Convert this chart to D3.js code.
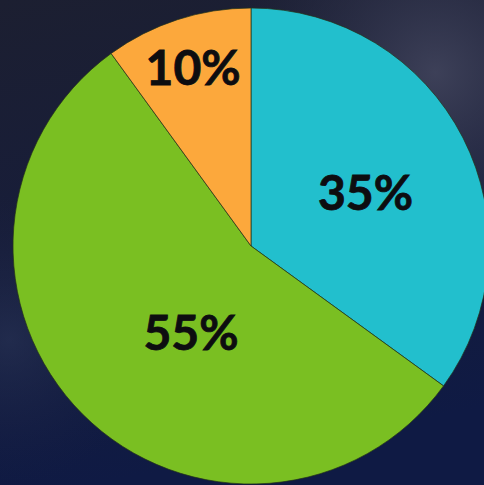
<html>
<head>
<style>
  body { margin: 0; background: #151c36; overflow: hidden; }
  text { font-family: "Lato", "Open Sans", sans-serif; font-weight: 700; }
</style>
</head>
<body>
<script src="https://d3js.org/d3.v7.min.js"></script>
<script>
// slice data, clockwise from 12 o'clock
var labels = ["35%", "55%", "10%"];
var values = [35, 55, 10];
var colors = ["#22bfcd", "#7abf22", "#fca83c"];

var width = 484, height = 485;
var cx = 251, cy = 246, radius = 238;
// label baseline placement tweaks (radius, angle shift in degrees)
var labelR = [120, 120, 171];
var labelShift = [9.6, -15, -1.8];

var svg = d3.select("body").append("svg")
  .attr("width", width)
  .attr("height", height);

var defs = svg.append("defs");
var base = defs.append("linearGradient")
  .attr("id", "base")
  .attr("x1", 0).attr("y1", 0).attr("x2", 0.2).attr("y2", 1);
base.append("stop").attr("offset", "0").attr("stop-color", "#1c1f31");
base.append("stop").attr("offset", "0.5").attr("stop-color", "#171d3a");
base.append("stop").attr("offset", "1").attr("stop-color", "#0f1a44");

var glow = defs.append("radialGradient")
  .attr("id", "glow")
  .attr("cx", "0.9").attr("cy", "0.15").attr("r", "0.45");
glow.append("stop").attr("offset", "0").attr("stop-color", "#41445c").attr("stop-opacity", 0.9);
glow.append("stop").attr("offset", "1").attr("stop-color", "#2a2d45").attr("stop-opacity", 0);

var glow2 = defs.append("radialGradient")
  .attr("id", "glow2")
  .attr("cx", "0.02").attr("cy", "0.7").attr("r", "0.3");
glow2.append("stop").attr("offset", "0").attr("stop-color", "#2e3a5c").attr("stop-opacity", 0.5);
glow2.append("stop").attr("offset", "1").attr("stop-color", "#1a2244").attr("stop-opacity", 0);

svg.append("rect").attr("width", width).attr("height", height).attr("fill", "url(#base)");
svg.append("rect").attr("width", width).attr("height", height).attr("fill", "url(#glow)");
svg.append("rect").attr("width", width).attr("height", height).attr("fill", "url(#glow2)");

var pie = d3.pie().sort(null).value(function (d) { return d; });
var arcs = pie(values);

var arc = d3.arc().innerRadius(0).outerRadius(radius);

var g = svg.append("g").attr("transform", "translate(" + cx + "," + cy + ")");

g.selectAll("path")
  .data(arcs)
  .enter()
  .append("path")
  .attr("d", arc)
  .attr("fill", function (d, i) { return colors[i]; })
  .attr("stroke", "#243318")
  .attr("stroke-opacity", 0.7)
  .attr("stroke-width", 1);

function labelAngle(d, i) {
  return (d.startAngle + d.endAngle) / 2 + labelShift[i] * Math.PI / 180;
}

g.selectAll("text")
  .data(arcs)
  .enter()
  .append("text")
  .attr("x", function (d, i) { return labelR[i] * Math.sin(labelAngle(d, i)); })
  .attr("y", function (d, i) { return -labelR[i] * Math.cos(labelAngle(d, i)); })
  .attr("text-anchor", "middle")
  .attr("font-size", 48)
  .attr("fill", "#0d0d10")
  .attr("stroke", "#0d0d10")
  .attr("stroke-width", 0.8)
  .text(function (d, i) { return labels[i]; });
</script>
</body>
</html>
